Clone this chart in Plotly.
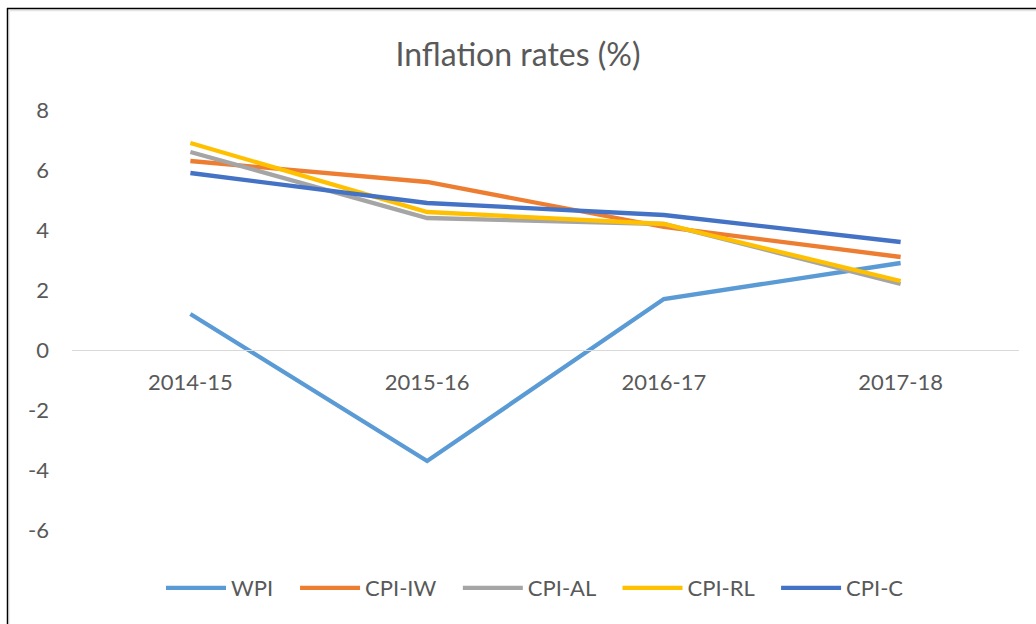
import plotly.graph_objects as go

categories = ["2014-15", "2015-16", "2016-17", "2017-18"]
wpi = [1.2, -3.7, 1.7, 2.9]
cpi_iw = [6.3, 5.6, 4.1, 3.1]
cpi_al = [6.6, 4.4, 4.2, 2.2]
cpi_rl = [6.9, 4.6, 4.2, 2.3]
cpi_c = [5.9, 4.9, 4.5, 3.6]

series_names = ["WPI", "CPI-IW", "CPI-AL", "CPI-RL", "CPI-C"]
series_values = [wpi, cpi_iw, cpi_al, cpi_rl, cpi_c]
colors = ["#5B9BD5", "#ED7D31", "#A5A5A5", "#FFC000", "#4472C4"]

y_tick_vals = [-6, -4, -2, 0, 2, 4, 6, 8]
y_tick_text = ["-6", "-4", "-2", "0", "2", "4", "6", "8"]
y_min, y_max = -6, 8

W, H = 1036, 624
ML, MR, MT, MB = 72, 17, 110, 94
FONT = "Lato"
TXT = "#595959"
PAD = "\u00a0" * 3  # extra spacing after legend labels

fig = go.Figure()
for name, vals, col in zip(series_names, series_values, colors):
    fig.add_trace(go.Scatter(
        x=categories, y=vals, name=name + PAD, mode="lines",
        line=dict(color=col, width=4.3),
        hovertemplate=name + ": %{y}<extra></extra>",
    ))

pw = W - ML - MR
ph = H - MT - MB

def px_to_paper_x(px):
    return (px - ML) / pw

def px_to_paper_y(py):
    return (H - MB - py) / ph

shapes = [
    # faint inner shadow of the outer frame
    dict(type="line", xref="paper", yref="paper",
         x0=px_to_paper_x(9), x1=px_to_paper_x(W + 5),
         y0=px_to_paper_y(10.5), y1=px_to_paper_y(10.5),
         line=dict(color="#E4E4E4", width=1.5)),
    dict(type="line", xref="paper", yref="paper",
         x0=px_to_paper_x(9.5), x1=px_to_paper_x(9.5),
         y0=px_to_paper_y(10), y1=px_to_paper_y(H + 5),
         line=dict(color="#EDEDED", width=1.2)),
    # outer frame (top and left)
    dict(type="line", xref="paper", yref="paper",
         x0=px_to_paper_x(7), x1=px_to_paper_x(W + 5),
         y0=px_to_paper_y(8.5), y1=px_to_paper_y(8.5),
         line=dict(color="black", width=1.5)),
    dict(type="line", xref="paper", yref="paper",
         x0=px_to_paper_x(7.5), x1=px_to_paper_x(7.5),
         y0=px_to_paper_y(8), y1=px_to_paper_y(H + 5),
         line=dict(color="black", width=1.5)),
]

fig.update_layout(
    width=W, height=H,
    margin=dict(l=ML, r=MR, t=MT, b=MB, pad=0),
    paper_bgcolor="white", plot_bgcolor="white",
    font=dict(family=FONT, color=TXT, size=22),
    title=dict(text="Inflation rates (%)", x=0.5, xanchor="center",
               y=1 - 55 / H, yanchor="middle",
               font=dict(family=FONT, size=32, color=TXT)),
    showlegend=True,
    legend=dict(orientation="h", x=px_to_paper_x(543), xanchor="center",
                y=px_to_paper_y(588), yanchor="middle",
                font=dict(family=FONT, size=22, color=TXT),
                itemwidth=60,
                bgcolor="rgba(0,0,0,0)"),
    xaxis=dict(type="category", range=[-0.5, len(categories) - 0.5],
               showgrid=False, zeroline=False,
               showline=True, linecolor="#D9D9D9", linewidth=1.3,
               anchor="free", position=(0 - y_min) / (y_max - y_min),
               ticks="", ticklabelstandoff=12,
               tickfont=dict(family=FONT, size=22, color=TXT)),
    yaxis=dict(range=[y_min, y_max], tickvals=y_tick_vals, ticktext=y_tick_text,
               showgrid=False, zeroline=False, showline=False,
               ticks="", ticklabelstandoff=22,
               tickfont=dict(family=FONT, size=22, color=TXT)),
    shapes=shapes,
)

fig.write_html("out.html", config={"displayModeBar": False},
               post_script="document.body.style.margin='0';")
